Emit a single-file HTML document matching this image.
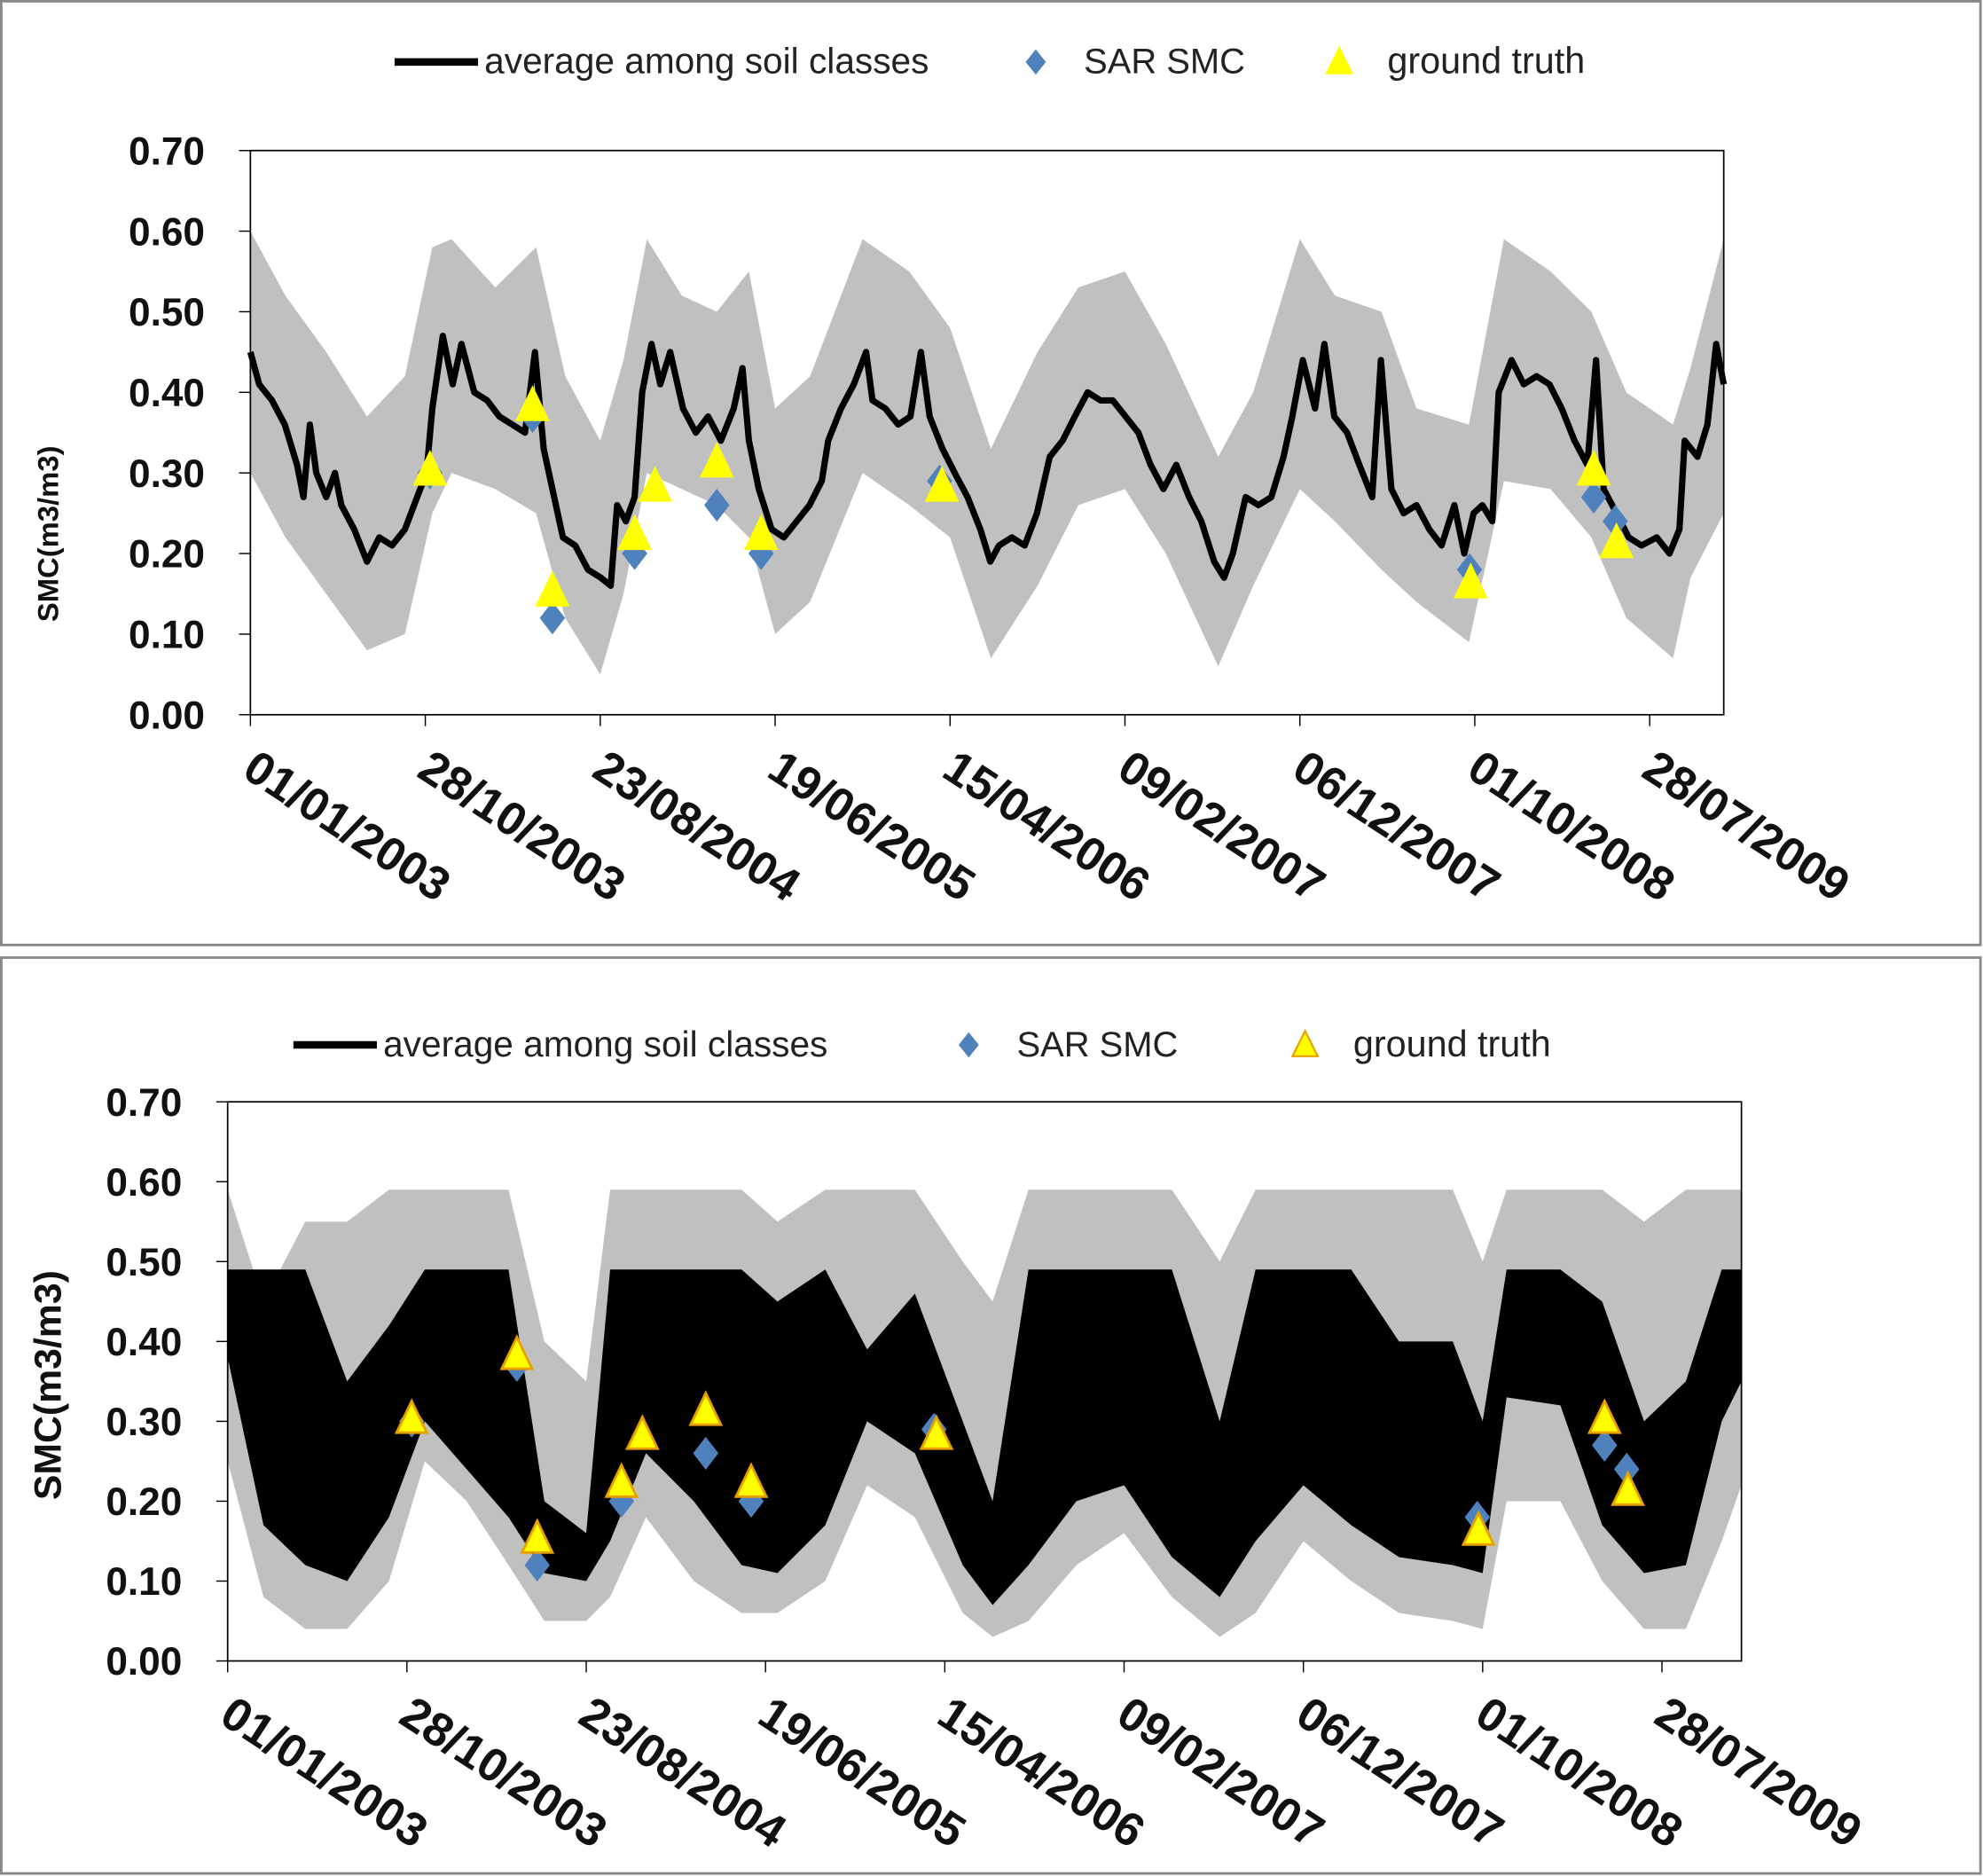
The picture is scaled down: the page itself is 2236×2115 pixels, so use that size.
<!DOCTYPE html>
<html><head><meta charset="utf-8"><style>
html,body{margin:0;padding:0;background:#fff}
svg{display:block}
text{font-family:"Liberation Sans",sans-serif}
</style></head><body>
<svg id="chart" xmlns="http://www.w3.org/2000/svg" width="2236" height="2115" viewBox="0 0 1568 1483" preserveAspectRatio="none">
<rect x="1" y="1" width="1565" height="746" fill="#fff" stroke="#888" stroke-width="2"/>
<rect x="1" y="757" width="1565" height="724" fill="#fff" stroke="#888" stroke-width="2"/>
<g id="top"></g><g id="bottom"></g>
</svg>
<script>
// ---- data ----
const tickLabels = ["01/01/2003","28/10/2003","23/08/2004","19/06/2005","15/04/2006","09/02/2007","06/12/2007","01/10/2008","28/07/2009"];
const tickDays = [0,300,600,900,1200,1500,1800,2100,2400];
const yTicks = [0,0.1,0.2,0.3,0.4,0.5,0.6,0.7];
const topAvgDays = [0,15,37,59,80,91,102,113,130,145,156,178,200,221,243,265,286,302,312,330,347,362,384,406,427,449,471,488,503,521,536,557,579,601,618,629,644,659,672,688,703,720,742,764,785,807,829,844,855,872,894,915,937,959,980,991,1013,1035,1056,1067,1089,1111,1132,1150,1165,1187,1208,1230,1252,1269,1284,1306,1328,1349,1371,1393,1414,1436,1458,1479,1501,1523,1544,1566,1588,1610,1631,1653,1670,1685,1707,1729,1751,1772,1787,1805,1826,1842,1859,1881,1902,1924,1939,1957,1978,2000,2022,2043,2065,2082,2098,2113,2130,2141,2163,2184,2206,2228,2249,2271,2293,2308,2321,2343,2364,2386,2412,2434,2451,2460,2482,2499,2514,2527];
const topAvgVals = [0.45,0.41,0.39,0.36,0.31,0.27,0.36,0.30,0.27,0.30,0.26,0.23,0.19,0.22,0.21,0.23,0.27,0.30,0.38,0.47,0.41,0.46,0.40,0.39,0.37,0.36,0.35,0.45,0.33,0.27,0.22,0.21,0.18,0.17,0.16,0.26,0.24,0.27,0.40,0.46,0.41,0.45,0.38,0.35,0.37,0.34,0.38,0.43,0.34,0.28,0.23,0.22,0.24,0.26,0.29,0.34,0.38,0.41,0.45,0.39,0.38,0.36,0.37,0.45,0.37,0.33,0.30,0.27,0.23,0.19,0.21,0.22,0.21,0.25,0.32,0.34,0.37,0.40,0.39,0.39,0.37,0.35,0.31,0.28,0.31,0.27,0.24,0.19,0.17,0.20,0.27,0.26,0.27,0.32,0.37,0.44,0.38,0.46,0.37,0.35,0.31,0.27,0.44,0.28,0.25,0.26,0.23,0.21,0.26,0.20,0.25,0.26,0.24,0.40,0.44,0.41,0.42,0.41,0.38,0.34,0.31,0.44,0.28,0.25,0.22,0.21,0.22,0.20,0.23,0.34,0.32,0.36,0.46,0.41];
const topBandDays = [0,60,130,200,265,312,345,420,490,540,600,640,680,740,800,855,900,960,1050,1130,1200,1270,1350,1420,1500,1570,1660,1720,1800,1860,1940,2000,2090,2150,2230,2300,2360,2440,2470,2527];
const topBandHi = [0.60,0.52,0.45,0.37,0.42,0.58,0.59,0.53,0.58,0.42,0.34,0.44,0.59,0.52,0.50,0.55,0.38,0.42,0.59,0.55,0.48,0.33,0.45,0.53,0.55,0.46,0.32,0.40,0.59,0.52,0.50,0.38,0.36,0.59,0.55,0.50,0.40,0.36,0.43,0.59];
const topBandLo = [0.30,0.22,0.15,0.08,0.10,0.25,0.30,0.28,0.25,0.12,0.05,0.15,0.30,0.28,0.26,0.22,0.10,0.14,0.30,0.26,0.22,0.07,0.16,0.26,0.28,0.20,0.06,0.16,0.28,0.24,0.18,0.14,0.09,0.29,0.28,0.22,0.12,0.07,0.17,0.25];
const botDays = [0,60,130,200,270,330,400,470,530,600,640,700,780,860,920,1000,1070,1150,1230,1280,1340,1420,1500,1580,1660,1720,1800,1880,1960,2050,2100,2140,2230,2300,2370,2440,2500,2533];
const botBandHi = [0.59,0.45,0.55,0.55,0.59,0.59,0.59,0.59,0.40,0.35,0.59,0.59,0.59,0.59,0.55,0.59,0.59,0.59,0.50,0.45,0.59,0.59,0.59,0.59,0.50,0.59,0.59,0.59,0.59,0.59,0.50,0.59,0.59,0.59,0.55,0.59,0.59,0.59];
const botBandLo = [0.25,0.08,0.04,0.04,0.10,0.25,0.20,0.12,0.05,0.05,0.08,0.18,0.10,0.06,0.06,0.10,0.22,0.18,0.06,0.03,0.05,0.12,0.16,0.08,0.03,0.06,0.15,0.10,0.06,0.05,0.04,0.20,0.20,0.10,0.04,0.04,0.15,0.22];
const botAvgHi = [0.49,0.49,0.49,0.35,0.42,0.49,0.49,0.49,0.20,0.16,0.49,0.49,0.49,0.49,0.45,0.49,0.39,0.46,0.30,0.20,0.49,0.49,0.49,0.49,0.30,0.49,0.49,0.49,0.40,0.40,0.30,0.49,0.49,0.45,0.30,0.35,0.49,0.49];
const botAvgLo = [0.38,0.17,0.12,0.10,0.18,0.30,0.24,0.18,0.11,0.10,0.15,0.26,0.20,0.12,0.11,0.17,0.30,0.26,0.12,0.07,0.12,0.20,0.22,0.13,0.08,0.15,0.22,0.17,0.13,0.12,0.11,0.33,0.32,0.17,0.11,0.12,0.30,0.35];
const sarDays = [308,484,518,659,800,876,1182,2091,2304,2341];
const sarVals = [0.30,0.37,0.12,0.20,0.26,0.20,0.29,0.18,0.27,0.24];
const gtDays = [308,484,518,659,694,800,876,1186,2093,2304,2343];
const gtVals = [0.30,0.38,0.15,0.22,0.28,0.31,0.22,0.28,0.16,0.30,0.21];

const NS="http://www.w3.org/2000/svg";
function mk(parent,tag,attrs){const e=document.createElementNS(NS,tag);for(const k in attrs)e.setAttribute(k,attrs[k]);parent.appendChild(e);return e;}

function drawPanel(g,cfg){
  const xs=d=>cfg.x0+(d/cfg.maxDay)*(cfg.x1-cfg.x0);
  const ys=v=>cfg.y0-(v/0.7)*(cfg.y0-cfg.y1);
  const ll=mk(g,'line',{x1:cfg.lx,y1:cfg.ly,x2:cfg.lx+66,y2:cfg.ly,stroke:'#000','stroke-width':6});
  
  
  const t1=mk(g,'text',{x:cfg.lx+71,y:cfg.ly+9,'font-size':28.5,fill:'#222'});t1.textContent='average among soil classes';
  
  
  const dx=cfg.dx, dy=cfg.ly;
  const ld=mk(g,'polygon',{points:`${dx},${dy-10} ${dx+8},${dy} ${dx},${dy+10} ${dx-8},${dy}`,fill:'#4f81bd'});
  
  
  const t2=mk(g,'text',{x:dx+38,y:dy+9,'font-size':28,fill:'#222'});t2.textContent='SAR SMC';
  
  
  const tx=cfg.tx;
  const lt=mk(g,'polygon',{points:`${tx},${dy-11} ${tx+10},${dy+9} ${tx-10},${dy+9}`,fill:'#ffff00',stroke:cfg.triStroke,'stroke-width':1.5});
  
  
  const t3=mk(g,'text',{x:tx+38,y:dy+9,'font-size':29,fill:'#222'});t3.textContent='ground truth';
  
  
  let p=cfg.bDays.map((d,i)=>xs(d)+','+ys(cfg.bHi[i])).join(' ')+' '+cfg.bDays.slice().reverse().map((d,i)=>xs(d)+','+ys(cfg.bLo[cfg.bDays.length-1-i])).join(' ');
  const band=mk(g,'polygon',{points:p,fill:'#c0c0c0'});
  
  
  if(cfg.aHi){
    let q=cfg.bDays.map((d,i)=>xs(d)+','+ys(cfg.aHi[i])).join(' ')+' '+cfg.bDays.slice().reverse().map((d,i)=>xs(d)+','+ys(cfg.aLo[cfg.bDays.length-1-i])).join(' ');
    const ab=mk(g,'polygon',{points:q,fill:'#000'});
    
    
  } else {
    const pl=mk(g,'polyline',{points:cfg.aDays.map((d,i)=>xs(d)+','+ys(cfg.aVals[i])).join(' '),fill:'none',stroke:'#000','stroke-width':5,'stroke-linejoin':'round'});
    
    
  }
  const fr=mk(g,'rect',{x:cfg.x0,y:cfg.y1,width:cfg.x1-cfg.x0,height:cfg.y0-cfg.y1,fill:'none',stroke:'#000','stroke-width':1.2});
  
  
  yTicks.forEach(v=>{
    const tk=mk(g,'line',{x1:cfg.x0-9,y1:ys(v),x2:cfg.x0,y2:ys(v),stroke:'#000','stroke-width':1});
    
    
    const tl=mk(g,'text',{x:cfg.x0-36,y:ys(v)+11,'font-size':31,'font-weight':'bold','text-anchor':'end',fill:'#111'});
    tl.textContent=v.toFixed(2);
    
    
  });
  tickDays.forEach((d,i)=>{
    const tk=mk(g,'line',{x1:xs(d),y1:cfg.y0,x2:xs(d),y2:cfg.y0+9,stroke:'#000','stroke-width':1});
    
    
    const tl=mk(g,'text',{x:0,y:0,'font-size':37,'font-weight':'bold',fill:'#111',transform:`translate(${xs(d)-8},${cfg.y0+48}) rotate(33)`});
    tl.textContent=tickLabels[i];
    
    
  });
  const yt=mk(g,'text',{x:0,y:0,'font-size':cfg.ytSize,'font-weight':'bold','text-anchor':'middle',fill:'#111',transform:`translate(${cfg.ytx},${cfg.yty}) rotate(-90)`});
  yt.textContent='SMC(m3/m3)';
  
  
  sarDays.forEach((d,i)=>{
    const x=xs(d),y=ys(sarVals[i]);
    const m=mk(g,'polygon',{points:`${x},${y-13} ${x+10},${y} ${x},${y+13} ${x-10},${y}`,fill:'#4f81bd'});
    
    
  });
  gtDays.forEach((d,i)=>{
    const x=xs(d),y=ys(gtVals[i]);
    const m=mk(g,'polygon',{points:`${x},${y-16} ${x+12},${y+9} ${x-12},${y+9}`,fill:'#ffff00',stroke:cfg.triStroke,'stroke-width':2});
    
    
  });
}
drawPanel(document.getElementById('top'),{x0:198,x1:1363,y0:565,y1:119,maxDay:2527,lx:312,ly:49,dx:819,tx:1059,triStroke:'#ffff00',
  bDays:topBandDays,bHi:topBandHi,bLo:topBandLo,aDays:topAvgDays,aVals:topAvgVals,ytx:46,yty:422,ytSize:23});
drawPanel(document.getElementById('bottom'),{x0:180,x1:1377,y0:1313,y1:871,maxDay:2533,lx:232,ly:826,dx:766,tx:1032,triStroke:'#e8a000',
  bDays:botDays,bHi:botBandHi,bLo:botBandLo,aHi:botAvgHi,aLo:botAvgLo,ytx:48,yty:1095,ytSize:30});
</script>
</body></html>
